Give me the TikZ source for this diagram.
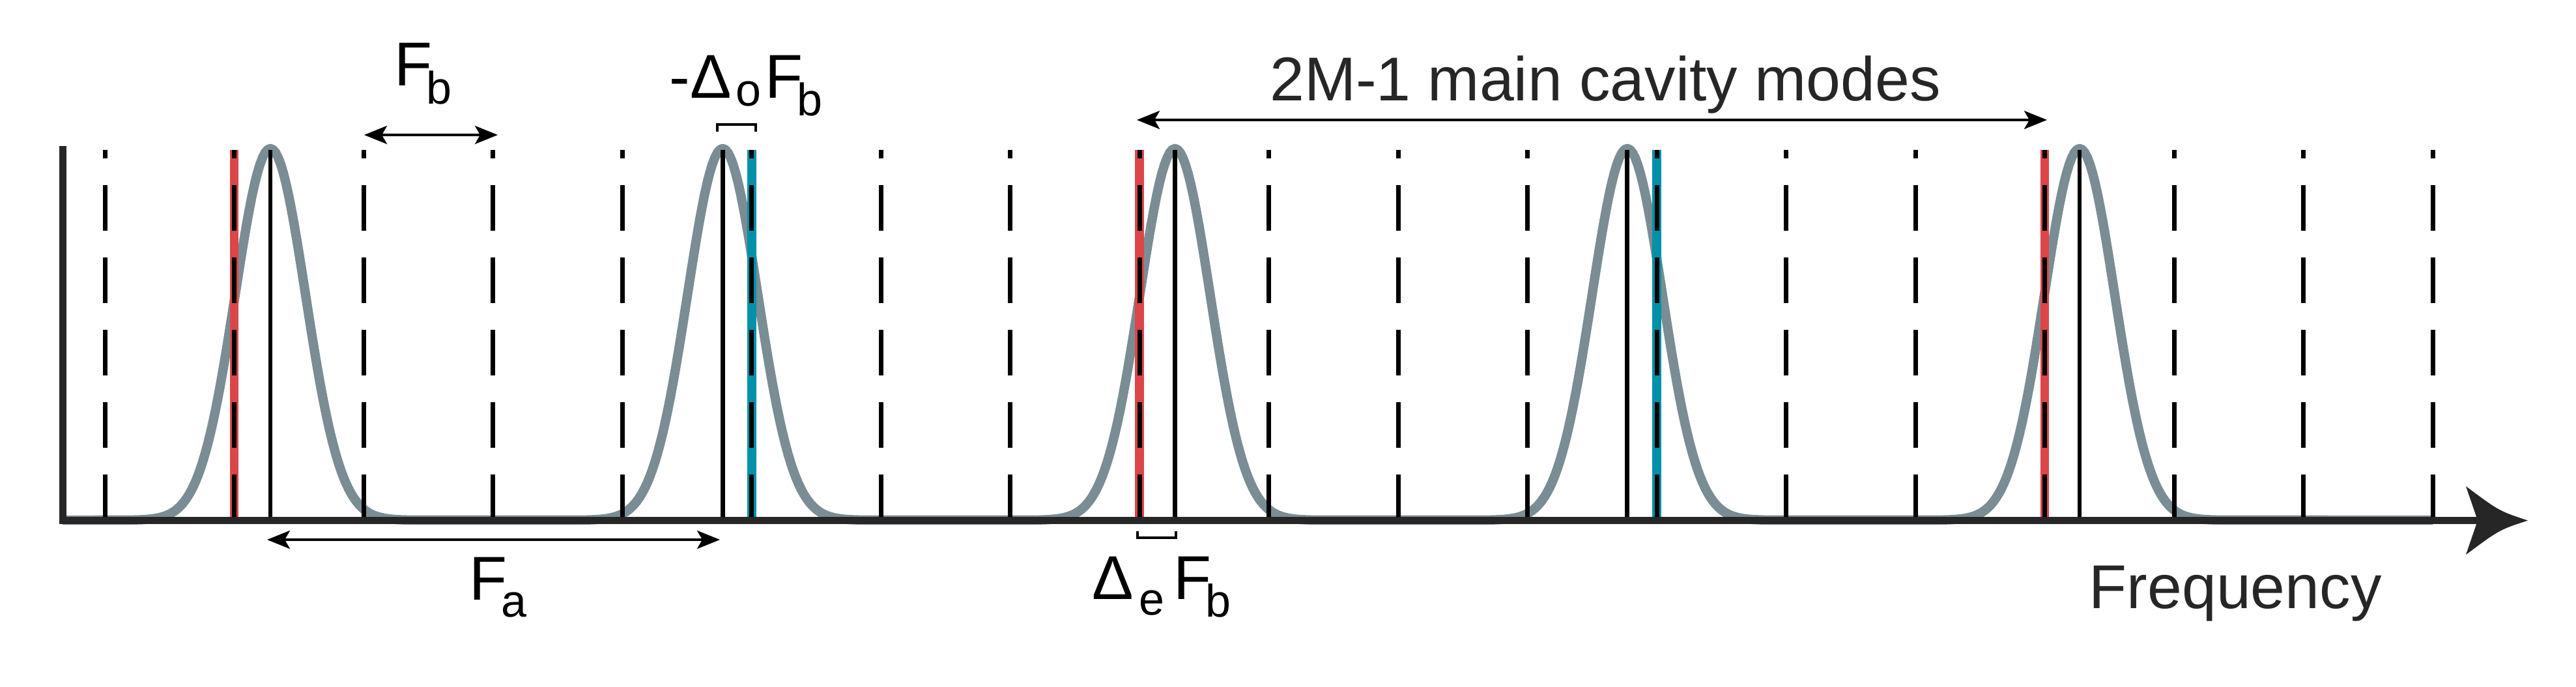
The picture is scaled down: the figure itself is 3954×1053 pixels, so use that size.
\documentclass[tikz,border=0pt]{standalone}
\usepackage{fontspec}
\setmainfont{Liberation Sans}
\usetikzlibrary{arrows.meta}
\definecolor{axisc}{HTML}{262626}
\definecolor{curvec}{HTML}{7A8D94}
\definecolor{redc}{HTML}{DC4649}
\definecolor{bluec}{HTML}{0091AA}
\newcommand{\bigsz}{\fontsize{23.75}{28}\selectfont}
\newcommand{\subsz}{\fontsize{17.5}{21}\selectfont}
\newcommand{\mysub}[2]{\raisebox{#1}{\subsz #2}}
\begin{document}
\begin{tikzpicture}[x=0.25pt,y=-0.25pt,
  gausscurve/.style={draw=curvec, line width=3.6pt, line join=round},
  shiftred/.style={draw=redc, line width=3.3pt},
  shiftblue/.style={draw=bluec, line width=3.5pt},
  cavdash/.style={draw=black, line width=1.75pt, dash pattern=on 17.5pt off 10.25pt},
  modeline/.style={draw=black, line width=1.7pt},
  axisline/.style={draw=axisc, line width=2.75pt},
  dimarrow/.style={draw=black, line width=1pt,
    {Stealth[length=8.75pt,width=7pt,inset=2pt]}-{Stealth[length=8.75pt,width=7pt,inset=2pt]}},
  bracketline/.style={draw=black, line width=1pt},
  lbl/.style={inner sep=0pt, anchor=base west, font=\bigsz}]
\useasboundingbox (0,0) rectangle (3954,1053);

% gain curve (sum of Gaussians)
\draw[gausscurve] (96,798)
  -- plot[domain=-220:220, samples=111] ({415+\x},{798-570*exp(-0.5*(\x/54)^2)})
  -- plot[domain=-220:220, samples=111] ({1109.25+\x},{798-570*exp(-0.5*(\x/54)^2)})
  -- plot[domain=-220:220, samples=111] ({1803.5+\x},{798-570*exp(-0.5*(\x/54)^2)})
  -- plot[domain=-220:220, samples=111] ({2497.75+\x},{798-570*exp(-0.5*(\x/54)^2)})
  -- plot[domain=-220:220, samples=111] ({3192+\x},{798-570*exp(-0.5*(\x/54)^2)})
  -- (3734,798);

% shifted modes
\foreach \n in {1,8,15} {
  \draw[shiftred] ({161+198.5*\n},229.5) -- ({161+198.5*\n},798);
}
\foreach \n in {5,12} {
  \draw[shiftblue] ({161+198.5*\n},229.5) -- ({161+198.5*\n},798);
}
% main cavity modes (solid)
\foreach \k in {0,...,4} {
  \draw[modeline] ({415+694.25*\k},229.5) -- ({415+694.25*\k},798);
}
% dashed cavity modes
\foreach \n in {0,...,18} {
  \draw[cavdash] ({161+198.5*\n},798) -- ({161+198.5*\n},229.5);
}

% axes
\coordinate (ytop) at (96,224);
\coordinate (origin) at (96,798.5);
\coordinate (xnotch) at (3803,798.5);
\draw[axisline] (ytop) -- (origin) -- (xnotch);
\fill[axisc] (3880,798.5) .. controls (3836,784) .. (3785,746) -- (xnotch)
  -- (3785,851) .. controls (3836,813) .. (3880,798.5) -- cycle;

% dimension arrows
\coordinate (fbL) at (559,207);
\coordinate (fbR) at (764,207);
\draw[dimarrow] (fbL) -- (fbR);
\coordinate (faL) at (410,828);
\coordinate (faR) at (1105,828);
\draw[dimarrow] (faL) -- (faR);
\coordinate (mL) at (1745,184);
\coordinate (mR) at (3142,184);
\draw[dimarrow] (mL) -- (mR);

% brackets
\draw[bracketline] (1101,202) -- (1101,191) -- (1160,191) -- (1160,202);
\draw[bracketline] (1746,815) -- (1746,825) -- (1805,825) -- (1805,815);

% labels
\node[lbl] (fbtop) at (605,131) {F\kern-2.4pt\mysub{-7pt}{b}};
\node[lbl] (falbl) at (720,920) {F\kern-2.4pt\mysub{-6.5pt}{a}};
\node[lbl] (defb) at (1676,919) {Δ\kern2.1pt\mysub{-6pt}{e}\kern3.5pt F\kern-2.4pt\mysub{-6.75pt}{b}};
\node[lbl] (dofb) at (1027,150) {-Δ\kern1.6pt\mysub{-3pt}{o}\kern1.6pt F\kern-2.4pt\mysub{-6.75pt}{b}};
\node[lbl, text=axisc] (freq) at (3206,933) {Frequency};
\node[lbl, anchor=base, text=axisc] (modes) at (2464,154) {2M-1 main cavity modes};
\end{tikzpicture}
\end{document}
